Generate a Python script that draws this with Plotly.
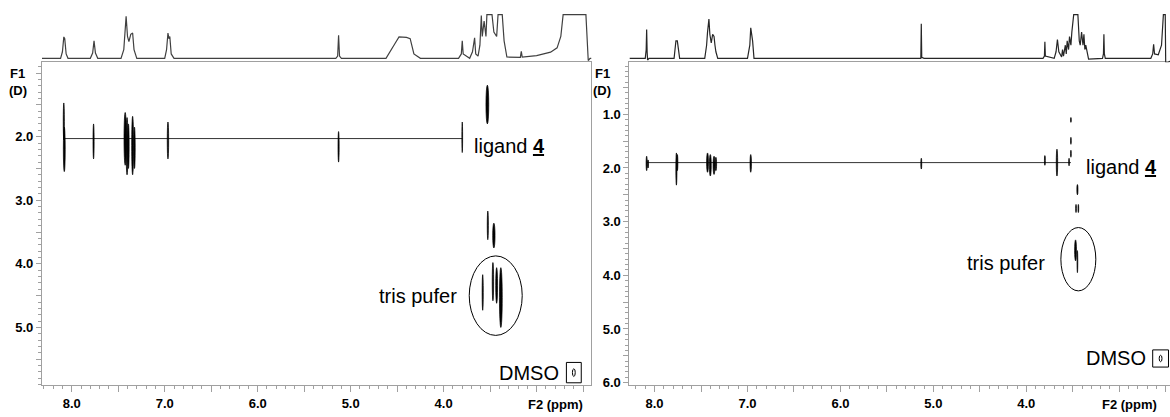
import plotly.graph_objects as go

W, H = 1176, 417   # a few pixels wider than the window: the reference is cut at its right edge

# ---------------- data ----------------
# left panel 1D projection (ppm, relative intensity; 1.0 = clipped top)
L_spec_ppm = [8.32, 8.12, 8.10, 8.085, 8.075, 8.06, 8.04, 7.80, 7.775, 7.76, 7.745, 7.72,
              7.47, 7.44, 7.415, 7.40, 7.385, 7.365, 7.345, 7.33, 7.30, 7.00, 6.98, 6.965,
              6.955, 6.945, 6.93, 6.90, 5.16, 5.14, 5.13, 5.12, 5.10, 4.62, 4.52, 4.48,
              4.40, 4.36, 4.32, 4.25, 3.84, 3.81, 3.80, 3.79, 3.72, 3.69, 3.667, 3.655,
              3.63, 3.61, 3.595, 3.585, 3.565, 3.545, 3.535, 3.48, 3.46, 3.43, 3.415, 3.37,
              3.35, 3.32, 3.175, 3.165, 3.155, 3.00, 2.85, 2.78, 2.74, 2.715, 2.47, 2.445,
              2.425, 2.41]
L_spec_int = [0.0, 0.0, 0.15, 0.49, 0.45, 0.1, 0.0, 0.0, 0.12, 0.40, 0.12, 0.0,
              0.0, 0.2, 0.96, 0.5, 0.38, 0.55, 0.58, 0.2, 0.0, 0.0, 0.2, 0.58,
              0.45, 0.5, 0.1, 0.0, 0.0, 0.05, 0.53, 0.05, 0.0, 0.0, 0.35, 0.49,
              0.48, 0.45, 0.1, 0.0, 0.0, 0.1, 0.40, 0.1, 0.0, 0.15, 0.47, 0.1,
              0.05, 0.3, 0.98, 0.5, 0.85, 0.5, 1.0, 1.0, 0.6, 0.5, 1.0, 1.0,
              0.4, 0.03, 0.02, 0.16, 0.03, 0.06, 0.14, 0.24, 0.5, 1.0, 1.0, -0.05,
              0.0, 0.0]

# right panel 1D projection
R_spec_ppm = [8.27, 8.10, 8.09, 8.085, 8.08, 8.075, 8.06, 7.79, 7.775, 7.77, 7.755, 7.745,
              7.73, 7.46, 7.44, 7.43, 7.415, 7.405, 7.39, 7.375, 7.36, 7.35, 7.34, 7.32,
              7.00, 6.975, 6.965, 6.955, 6.945, 6.93, 5.15, 5.135, 5.13, 5.125, 5.10, 3.82,
              3.805, 3.80, 3.795, 3.70, 3.68, 3.665, 3.65, 3.62, 3.61, 3.60, 3.58, 3.57,
              3.56, 3.545, 3.535, 3.52, 3.51, 3.49, 3.47, 3.445, 3.43, 3.42, 3.405, 3.39,
              3.38, 3.37, 3.36, 3.33, 3.18, 3.17, 3.165, 3.16, 3.15, 2.66, 2.64, 2.63,
              2.62, 2.58, 2.545, 2.525, 2.505, 2.50, 2.48, 2.40]
R_spec_int = [0.0, 0.0, 0.2, 0.66, 0.15, -0.04, 0.0, 0.0, 0.3, 0.4, 0.4, 0.2,
              0.0, 0.0, 0.3, 0.6, 0.9, 0.55, 0.35, 0.55, 0.5, 0.3, 0.15, 0.0,
              0.0, 0.3, 0.7, 0.55, 0.4, 0.0, 0.0, 0.0, 0.79, 0.02, 0.0, 0.0,
              0.05, 0.38, 0.05, 0.0, 0.15, 0.43, 0.15, 0.03, 0.2, 0.05, 0.3, 0.1,
              0.4, 0.2, 0.5, 0.3, 0.6, 1.0, 1.0, 1.0, 0.4, 0.3, 0.6, 0.3,
              0.55, 0.2, 0.3, -0.02, 0.0, 0.1, 0.55, 0.1, 0.0, 0.0, 0.1, 0.32,
              0.1, 0.08, 0.3, 1.0, 1.0, -0.1, -0.1, 0.0]

# 2D cross peaks: ppm, D top, D bottom, ppm width
L_cp_ppm  = [8.085, 8.080, 7.765, 7.425, 7.405, 7.390, 7.345, 7.325, 6.965, 5.130, 3.800,
             3.530, 3.525, 3.460, 3.580, 3.470, 3.430, 3.385]
L_cp_dtop = [1.47, 1.85, 1.80, 1.62, 1.70, 1.80, 1.68, 1.85, 1.77, 1.92, 1.77,
             1.19, 3.17, 3.36, 4.17, 3.98, 4.06, 4.06]
L_cp_dbot = [2.05, 2.55, 2.35, 2.45, 2.60, 2.50, 2.60, 2.50, 2.35, 2.40, 2.25,
             1.80, 3.62, 3.75, 4.73, 4.58, 4.62, 5.00]
L_cp_w    = [0.012, 0.020, 0.012, 0.025, 0.020, 0.015, 0.020, 0.015, 0.015, 0.012, 0.008,
             0.030, 0.012, 0.025, 0.012, 0.015, 0.020, 0.030]

R_cp_ppm  = [8.085, 8.070, 7.765, 7.755, 7.430, 7.400, 7.360, 7.340, 6.965, 5.130, 3.800,
             3.670, 3.540, 3.520, 3.520, 3.520, 3.450, 3.465, 3.440, 3.470, 3.450]
R_cp_dtop = [1.78, 1.85, 1.72, 1.75, 1.72, 1.75, 1.78, 1.80, 1.75, 1.82, 1.77,
             1.65, 1.82, 1.06, 1.43, 1.67, 2.31, 2.68, 2.68, 3.34, 3.54]
R_cp_dbot = [2.05, 2.00, 2.32, 2.05, 2.08, 2.15, 2.12, 2.05, 2.08, 2.02, 1.95,
             2.15, 1.96, 1.15, 1.56, 1.80, 2.50, 2.83, 2.83, 3.73, 3.95]
R_cp_w    = [0.012, 0.010, 0.012, 0.012, 0.020, 0.020, 0.020, 0.015, 0.015, 0.010, 0.010,
             0.015, 0.008, 0.008, 0.008, 0.008, 0.012, 0.008, 0.008, 0.020, 0.008]

# ligand diffusion line: D, ppm start, ppm end
L_lig = [2.03, 8.08, 3.80]
R_lig = [1.90, 8.08, 3.52]

# tris buffer circle: ppm centre, D centre, ppm width, D height
L_tris = [3.44, 4.50, 0.57, 1.25]
R_tris = [3.44, 3.70, 0.376, 1.18]

# DMSO box: ppm left, ppm right, D top, D bottom
L_dmso = [2.68, 2.52, 5.55, 5.87]
R_dmso = [2.64, 2.47, 5.39, 5.71]

x_major = [8.0, 7.0, 6.0, 5.0, 4.0]
L_y_major = [2.0, 3.0, 4.0, 5.0]
R_y_major = [1.0, 2.0, 3.0, 4.0, 5.0, 6.0]

# ---------------- layout helpers ----------------
def fx(p):
    return p / W

def fy(p):
    return 1 - p / H

FONT = "Liberation Sans, Arial, sans-serif"
AX = "#a0a0a0"

fig = go.Figure()

def half_ticks(major, lo, hi):
    vals, txt = [], []
    v = hi
    while v >= lo - 1e-9:
        vals.append(round(v, 2))
        txt.append("<b>%.1f</b>" % v if any(abs(v - m) < 1e-6 for m in major) else "")
        v -= 0.5
    return vals, txt

def xax(dom, rng, anchor):
    vals, txt = half_ticks(x_major, 2.5, 8.0)
    return dict(domain=dom, range=rng, anchor=anchor, showgrid=False, zeroline=False,
                showline=True, linecolor=AX, linewidth=1, mirror=True,
                ticks="outside", ticklen=6, tickcolor=AX, tickvals=vals, ticktext=txt,
                tickfont=dict(family=FONT, size=13, color="black"),
                minor=dict(dtick=0.1, ticks="outside", ticklen=3, tickcolor=AX, showgrid=False))

def yax(dom, rng, anchor, major):
    vals, txt = half_ticks(major, 0.5, 6.0)
    return dict(domain=dom, range=rng, anchor=anchor, showgrid=False, zeroline=False,
                showline=True, linecolor=AX, linewidth=1, mirror=True,
                ticks="outside", ticklen=5, tickcolor=AX, tickvals=vals, ticktext=txt,
                tickfont=dict(family=FONT, size=13, color="black"),
                minor=dict(dtick=0.1, ticks="outside", ticklen=3, tickcolor=AX, showgrid=False))

def specax(dom, rng):
    return dict(domain=dom, range=rng, showgrid=False, zeroline=False, showline=False,
                showticklabels=False, ticks="")

L_xdom = [fx(42), fx(592)]
R_xdom = [fx(630), fx(1176)]
ydom2d = [fy(390), fy(63)]
ydom1d = [fy(63), fy(2)]

fig.update_layout(
    width=W, height=H, margin=dict(l=0, r=0, t=0, b=0),
    paper_bgcolor="white", plot_bgcolor="rgba(0,0,0,0)", showlegend=False,
    xaxis=xax(L_xdom, [8.32, 2.41], "y"),
    yaxis=yax(ydom2d, [5.91, 0.83], "x", L_y_major),
    xaxis2=dict(specax(L_xdom, [8.32, 2.41]), anchor="y2"),
    yaxis2=dict(specax(ydom1d, [-0.09, 1.29]), anchor="x2"),
    xaxis3=xax(R_xdom, [8.27, 2.40], "y3"),
    yaxis3=yax(ydom2d, [6.05, 0.03], "x3", R_y_major),
    xaxis4=dict(specax(R_xdom, [8.27, 2.40]), anchor="y4"),
    yaxis4=dict(specax(ydom1d, [-0.09, 1.29]), anchor="x4"),
)

# 1D spectra
fig.add_trace(go.Scatter(x=L_spec_ppm, y=L_spec_int, xaxis="x2", yaxis="y2", mode="lines",
                         line=dict(color="#404040", width=1.2), hoverinfo="skip"))
fig.add_trace(go.Scatter(x=R_spec_ppm, y=R_spec_int, xaxis="x4", yaxis="y4", mode="lines",
                         line=dict(color="#262626", width=1.2), hoverinfo="skip"))

# ligand lines
fig.add_trace(go.Scatter(x=[L_lig[1], L_lig[2]], y=[L_lig[0], L_lig[0]], xaxis="x", yaxis="y",
                         mode="lines", line=dict(color="#333", width=1), hoverinfo="skip"))
fig.add_trace(go.Scatter(x=[R_lig[1], R_lig[2]], y=[R_lig[0], R_lig[0]], xaxis="x3", yaxis="y3",
                         mode="lines", line=dict(color="#333", width=1), hoverinfo="skip"))

shapes = []
def add_peaks(ppm, dt, db, w, xr, yr):
    for p, a, b, ww in zip(ppm, dt, db, w):
        shapes.append(dict(type="circle", xref=xr, yref=yr, x0=p + ww / 2, x1=p - ww / 2,
                           y0=a, y1=b, fillcolor="black", line=dict(color="black", width=0.7)))

add_peaks(L_cp_ppm, L_cp_dtop, L_cp_dbot, L_cp_w, "x", "y")
add_peaks(R_cp_ppm, R_cp_dtop, R_cp_dbot, R_cp_w, "x3", "y3")

for t, xr, yr in [(L_tris, "x", "y"), (R_tris, "x3", "y3")]:
    shapes.append(dict(type="circle", xref=xr, yref=yr, x0=t[0] + t[2] / 2, x1=t[0] - t[2] / 2,
                       y0=t[1] - t[3] / 2, y1=t[1] + t[3] / 2, line=dict(color="black", width=1)))

for d, xr, yr in [(L_dmso, "x", "y"), (R_dmso, "x3", "y3")]:
    shapes.append(dict(type="rect", xref=xr, yref=yr, x0=d[0], x1=d[1], y0=d[2], y1=d[3],
                       line=dict(color="black", width=1), fillcolor="white"))
    cx = (d[0] + d[1]) / 2
    cy = (d[2] + d[3]) / 2
    shapes.append(dict(type="circle", xref=xr, yref=yr, x0=cx + 0.015, x1=cx - 0.015,
                       y0=cy - 0.06, y1=cy + 0.06, line=dict(color="black", width=1)))

fig.update_layout(shapes=shapes)

ann = []
def txt(x, y, s, xr, yr, xa="left", size=20):
    ann.append(dict(x=x, y=y, xref=xr, yref=yr, text=s, showarrow=False, xanchor=xa,
                    yanchor="middle", font=dict(family=FONT, size=size, color="black")))

txt(L_lig[2] - 0.10, L_lig[0] + 0.12, "ligand <b><u>4</u></b>", "x", "y")
txt(R_lig[2] - 0.14, R_lig[0] + 0.09, "ligand <b><u>4</u></b>", "x3", "y3")
txt(L_tris[0] + L_tris[2] / 2 + 0.105, L_tris[1], "tris pufer", "x", "y", xa="right")
txt(R_tris[0] + R_tris[2] / 2 + 0.15, R_tris[1] + 0.07, "tris pufer", "x3", "y3", xa="right")
txt(L_dmso[0] + 0.06, (L_dmso[2] + L_dmso[3]) / 2, "DMSO", "x", "y", xa="right")
txt(R_dmso[0] + 0.05, (R_dmso[2] + R_dmso[3]) / 2, "DMSO", "x3", "y3", xa="right")

for xp in [18, 603]:
    ann.append(dict(x=fx(xp), y=fy(83), xref="paper", yref="paper", showarrow=False,
                    text="<b>F1</b>", xanchor="center", yanchor="bottom", borderpad=0,
                    font=dict(family=FONT, size=13, color="black")))
    ann.append(dict(x=fx(xp), y=fy(83), xref="paper", yref="paper", showarrow=False,
                    text="<b>(D)</b>", xanchor="center", yanchor="top", borderpad=0,
                    font=dict(family=FONT, size=13, color="black")))
for xp in [585, 1160]:
    ann.append(dict(x=fx(xp), y=fy(409), xref="paper", yref="paper", showarrow=False,
                    text="<b>F2 (ppm)</b>", xanchor="right", yanchor="middle",
                    font=dict(family=FONT, size=13, color="black")))

fig.update_layout(annotations=ann)

fig.write_html("out.html",
               config={"displayModeBar": False, "staticPlot": True},
               post_script="document.body.style.margin='0px';"
                           "document.body.style.overflow='hidden';"
                           "document.documentElement.style.overflow='hidden';")
